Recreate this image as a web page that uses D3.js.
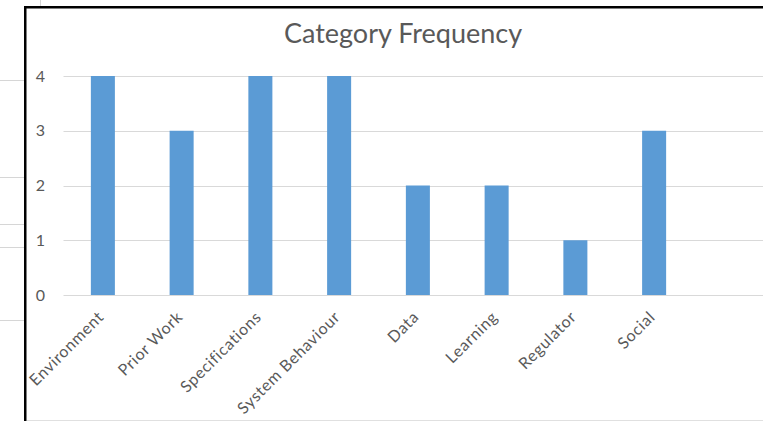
<!DOCTYPE html>
<html>
<head>
<meta charset="utf-8">
<script src="https://cdn.jsdelivr.net/npm/d3@7/dist/d3.min.js"></script>
<style>
  html, body { margin: 0; padding: 0; background: #fff; }
  svg { display: block; }
  text { font-family: Lato, "Open Sans", sans-serif; }
</style>
</head>
<body>
<svg id="chart" width="763" height="421"></svg>
<script>
// Category counts
const categories = ["Environment", "Prior Work", "Specifications", "System Behaviour",
                    "Data", "Learning", "Regulator", "Social"];
const counts = [4, 3, 4, 4, 2, 2, 1, 3];
const yTicks = [0, 1, 2, 3, 4];
const title = "Category Frequency";

const W = 763, H = 421;
const svg = d3.select("#chart");

// Sheet cells behind the chart object
const sheetRows = [80, 177, 224, 247, 320];
svg.selectAll("line.sheet").data(sheetRows).join("line")
  .attr("class", "sheet")
  .attr("x1", 0).attr("x2", 25)
  .attr("y1", d => d + 0.5).attr("y2", d => d + 0.5)
  .attr("stroke", "#d6d6d6").attr("stroke-width", 1);
svg.append("line")
  .attr("x1", 40.5).attr("x2", 40.5).attr("y1", 0).attr("y2", 6)
  .attr("stroke", "#d6d6d6");

// Chart frame
svg.append("rect")
  .attr("x", 26).attr("y", 8).attr("width", W - 26).attr("height", H - 8)
  .attr("fill", "#fff");
svg.append("line")
  .attr("x1", 25.25).attr("x2", 25.25).attr("y1", 6).attr("y2", H)
  .attr("stroke", "#000").attr("stroke-width", 2.5);
svg.append("line")
  .attr("x1", 24).attr("x2", W).attr("y1", 7.25).attr("y2", 7.25)
  .attr("stroke", "#000").attr("stroke-width", 2.5);
svg.append("line")
  .attr("x1", 27).attr("x2", W).attr("y1", 420.5).attr("y2", 420.5)
  .attr("stroke", "#e0e0e0").attr("stroke-width", 1);

// Plot area
const plotLeft = 63.5, plotRight = W;
const x = d3.scaleBand()
  .domain(categories)
  .range([plotLeft, plotLeft + 78.75 * categories.length])
  .paddingInner(0.695)
  .paddingOuter(0.3475);
const y = d3.scaleLinear().domain([0, 4]).range([295, 76]);

// Gridlines
svg.append("g")
  .selectAll("line").data(yTicks).join("line")
  .attr("x1", plotLeft).attr("x2", plotRight)
  .attr("y1", d => Math.round(y(d)) + 0.5).attr("y2", d => Math.round(y(d)) + 0.5)
  .attr("stroke", "#d9d9d9").attr("stroke-width", 1);

// Y axis labels
const yAxis = d3.axisLeft(y).tickValues(yTicks).tickFormat(d3.format("d"))
  .tickSize(0).tickPadding(0);
const gy = svg.append("g").attr("transform", "translate(45,0)").call(yAxis);
gy.select(".domain").remove();
gy.selectAll("text")
  .attr("fill", "#595959")
  .style("font-size", "16px")
  .style("font-family", "Lato, sans-serif");

// Bars
svg.append("g")
  .selectAll("rect").data(categories).join("rect")
  .attr("x", d => x(d))
  .attr("width", x.bandwidth())
  .attr("y", (d, i) => y(counts[i]))
  .attr("height", (d, i) => y(0) - y(counts[i]))
  .attr("fill", "#5b9bd5");

// X axis labels, rotated
const xAxis = d3.axisBottom(x).tickSize(0).tickPadding(0);
const gx = svg.append("g").attr("transform", "translate(0,295)").call(xAxis);
gx.select(".domain").remove();
gx.selectAll("text")
  .attr("fill", "#595959")
  .style("font-size", "16px")
  .style("letter-spacing", "0.7px")
  .style("font-family", "Lato, sans-serif")
  .attr("text-anchor", "end")
  .attr("dy", null)
  .attr("y", null)
  .attr("transform", "translate(2,23) rotate(-45)");

// Title
svg.append("text")
  .attr("x", 403).attr("y", 43)
  .attr("text-anchor", "middle")
  .attr("fill", "#595959")
  .style("font-size", "27px")
  .text(title);
</script>
</body>
</html>
